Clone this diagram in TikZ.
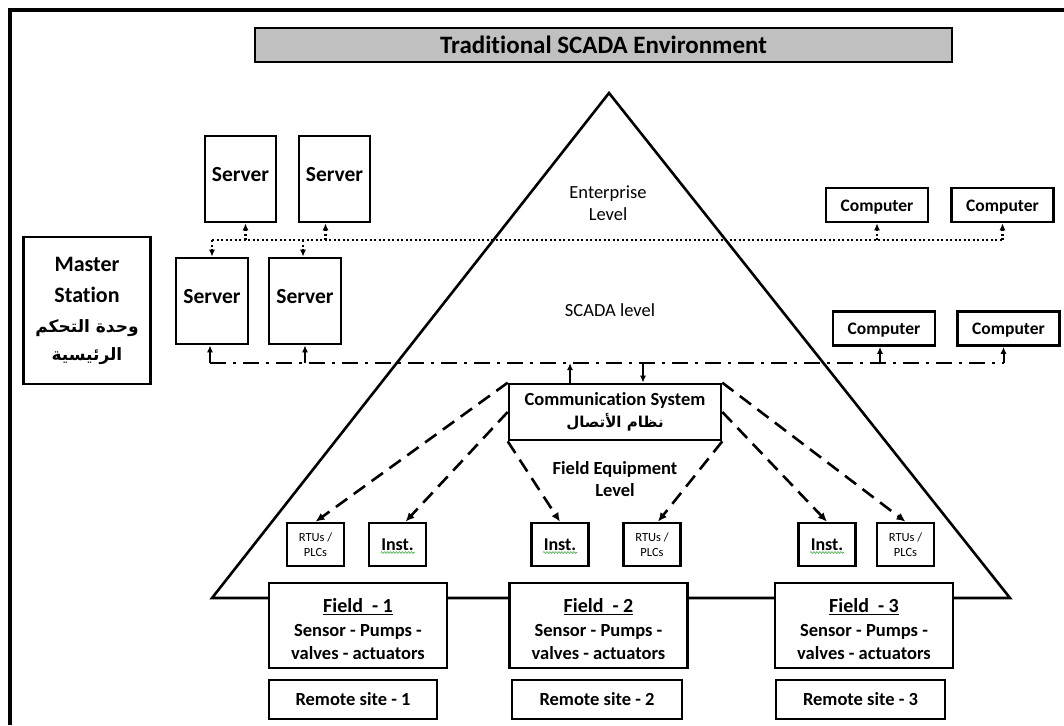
\documentclass[tikz,border=0pt]{standalone}
\usepackage{fontspec}
\setmainfont{Carlito}[Ligatures=NoCommon]
\newfontfamily\arabicfont[Script=Arabic]{DejaVu Sans}
\TeXXeTstate=1
\usetikzlibrary{arrows.meta,decorations.pathmorphing}
\definecolor{titlegray}{RGB}{192,192,192}
\definecolor{wavygreen}{RGB}{70,175,70}
\begin{document}
\begin{tikzpicture}[x=1pt,y=-1pt,
  box/.style={draw, line width=2.6pt, fill=white, inner sep=0pt, align=center, font=\bfseries\fontsize{18}{22}\selectfont},
  server/.style={box, minimum width=71pt, minimum height=86pt, text depth=10pt, font=\bfseries\fontsize{21.5}{24}\selectfont},
  comp/.style={box, minimum width=102pt, minimum height=34pt, text height=15pt, font=\bfseries\fontsize{17.5}{20}\selectfont},
  small/.style={box, minimum width=57pt, minimum height=43pt},
  field/.style={box, minimum width=178pt, minimum height=85pt, font=\bfseries\fontsize{18.5}{23.5}\selectfont},
  remote/.style={box, minimum height=39pt, font=\bfseries\fontsize{18.5}{22}\selectfont},
  lvl/.style={align=center, inner sep=0pt, font=\fontsize{18.5}{21.5}\selectfont},
  solidarr/.style={line width=2pt, -{Latex[length=7pt,width=6pt]}},
  dotl/.style={line width=2.2pt, dash pattern=on 2pt off 2.5pt},
  dotarr/.style={dotl, -{Latex[length=7pt,width=6pt]}},
  dashdot/.style={line width=2.6pt, dash pattern=on 16pt off 7pt on 3pt off 7pt},
  dasharr/.style={line width=2.6pt, dash pattern=on 14pt off 8pt, -{Latex[length=9pt,width=8pt]}},
  wavy/.style={wavygreen, line width=0.6pt, decorate, decoration={snake, amplitude=0.9pt, segment length=3pt}},
]
\useasboundingbox (0,0) rectangle (1064,725);

% frame
\draw[line width=4pt] (10,725) -- (10,10) -- (1064,10);

% pyramid
\coordinate (apex) at (609,93);
\coordinate (bl) at (212,598);
\coordinate (br) at (1010,598);
\draw[line width=2.6pt, line join=miter] (apex) -- (bl) -- (br) -- cycle;

% buses
\coordinate (dotL) at (212,240);
\coordinate (dotR) at (1003,240);
\draw[dotl] (dotL) -- (dotR);
\coordinate (ddL) at (210,363);
\coordinate (ddR) at (1004,363);
\draw[dashdot] (ddL) -- (ddR);

% title
\node[box, fill=titlegray, minimum width=697pt, minimum height=34pt, font=\bfseries\fontsize{25}{28}\selectfont] (title) at (603.5,45) {Traditional SCADA Environment};

% level labels
\node[lvl] (ent) at (608,203) {Enterprise\\Level};
\node[lvl] (scl) at (610,310) {SCADA level};
\node[lvl, font=\bfseries\fontsize{18.5}{22}\selectfont] (fel) at (615,479) {Field Equipment\\Level};

% master station
\node[box, minimum width=127pt, minimum height=147pt, font=\bfseries\fontsize{22}{31}\selectfont] (ms) at (87,310.5)
  {Master\\Station\\[-1pt]{\arabicfont\bfseries\fontsize{17}{27}\selectfont\beginR وحدة التحكم\endR}\\[-3pt]{\arabicfont\bfseries\fontsize{17}{27}\selectfont\beginR الرئيسية\endR}};

% servers
\node[server] (sa) at (240.5,179) {Server};
\node[server] (sb) at (334.5,179) {Server};
\node[server, minimum width=72pt] (sc) at (212,301) {Server};
\node[server, minimum width=72pt] (sd) at (305,301) {Server};

% computers
\node[comp] (c1) at (877,205) {Computer};
\node[comp] (c2) at (1002.5,205) {Computer};
\node[comp] (c3) at (884,328.5) {Computer};
\node[comp] (c4) at (1008.5,328.5) {Computer};

% communication system
\node[box, minimum width=212pt, minimum height=56pt, font=\bfseries\fontsize{18.5}{21}\selectfont] (cs) at (615,412)
  {Communication System\\[1pt]{\arabicfont\bfseries\fontsize{15}{19}\selectfont\beginR نظام الأتصال\endR}};

% field equipment
\node[small, font=\fontsize{12.5}{15}\selectfont] (rtu1) at (315.5,544.5) {RTUs /\\PLCs};
\node[small] (inst1) at (397.5,544.5) {Inst.};
\node[small] (inst2) at (560,544.5) {Inst.};
\node[small, font=\fontsize{12.5}{15}\selectfont] (rtu2) at (652,544.5) {RTUs /\\PLCs};
\node[small] (inst3) at (827,544.5) {Inst.};
\node[small, font=\fontsize{12.5}{15}\selectfont] (rtu3) at (905.5,544.5) {RTUs /\\PLCs};

% spell-check underlines
\foreach \n in {inst1,inst2,inst3}{
  \draw[wavy] ([xshift=-17pt,yshift=-8pt]\n.center) -- ([xshift=17pt,yshift=-8pt]\n.center);
}

% fields
\node[field] (f1) at (358,625.5) {\rule{0pt}{22pt}{\fontsize{20}{22}\selectfont\underline{Field\ \ - 1}}\\Sensor - Pumps -\\valves - actuators};
\node[field] (f2) at (598.5,625.5) {\rule{0pt}{22pt}{\fontsize{20}{22}\selectfont\underline{Field\ \ - 2}}\\Sensor - Pumps -\\valves - actuators};
\node[field] (f3) at (864,625.5) {\rule{0pt}{22pt}{\fontsize{20}{22}\selectfont\underline{Field\ \ - 3}}\\Sensor - Pumps -\\valves - actuators};

% remote sites
\node[remote, minimum width=168pt] (r1) at (353,699.5) {Remote site - 1};
\node[remote, minimum width=170pt] (r2) at (597,699.5) {Remote site - 2};
\node[remote, minimum width=169pt] (r3) at (860.5,699.5) {Remote site - 3};

% dotted (enterprise) connections
\draw[dotarr] ([xshift=5pt]sa.south |- dotL) -- ([xshift=5pt]sa.south);
\draw[dotarr] ([xshift=-9pt]sb.south |- dotL) -- ([xshift=-9pt]sb.south);
\draw[dotarr] (sc.north |- dotL) -- (sc.north);
\draw[dotarr] ([xshift=-2pt]sd.north |- dotL) -- ([xshift=-2pt]sd.north);
\draw[dotarr] (c1.south |- dotL) -- (c1.south);
\draw[dotarr] (c2.south |- dotL) -- (c2.south);

% dash-dot (SCADA) connections
\draw[solidarr] ([xshift=-2pt]sc.south |- ddL) -- ([xshift=-2pt]sc.south);
\draw[solidarr] (sd.south |- ddL) -- (sd.south);
\draw[solidarr] ([xshift=-4pt]c3.south |- ddL) -- ([xshift=-4pt]c3.south);
\draw[solidarr] ([xshift=-5pt]c4.south |- ddL) -- ([xshift=-5pt]c4.south);
\draw[solidarr] ([xshift=-45pt]cs.north) -- ([xshift=-45pt]cs.north |- ddL);
\draw[solidarr] ([xshift=28pt]cs.north |- ddL) -- ([xshift=28pt]cs.north);

% communication links
\draw[dasharr] (cs.north west) -- (rtu1.north);
\draw[dasharr] (cs.west) -- ([xshift=8pt]inst1.north);
\draw[dasharr] (cs.south west) -- (inst2.north);
\draw[dasharr] (cs.south east) -- ([xshift=6pt]rtu2.north);
\draw[dasharr] (cs.north east) -- (rtu3.north);
\draw[dasharr] (cs.east) -- (inst3.north);
\end{tikzpicture}
\end{document}
